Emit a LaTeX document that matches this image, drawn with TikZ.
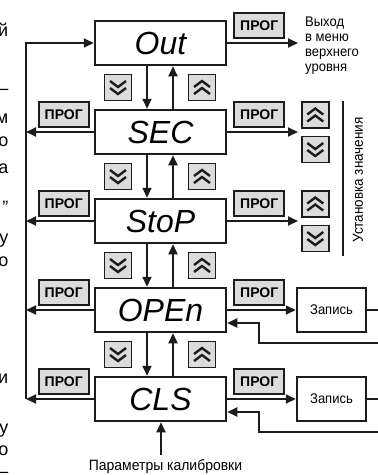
\documentclass[tikz,border=0pt]{standalone}
\usepackage{fontspec}
\setmainfont{Liberation Sans}
\newfontfamily\narrowfont[FakeStretch=0.93]{Liberation Sans}
\usetikzlibrary{arrows.meta,positioning}
\definecolor{ink}{RGB}{28,28,28}
\definecolor{keygray}{RGB}{220,220,220}

\begin{document}
\begin{tikzpicture}[x=1pt, y=-1pt,
  menu/.style={draw=ink, line width=2.5pt, minimum width=131pt, minimum height=44pt, inner sep=0pt, font=\fontsize{32}{32}\selectfont\itshape},
  prog/.style={draw=ink, fill=keygray, line width=1.8pt, minimum width=50pt, minimum height=25pt, inner sep=0pt, font=\fontsize{14}{14}\selectfont\bfseries},
  key/.style={draw=ink, fill=keygray, line width=1.8pt, minimum width=27pt, minimum height=26pt, inner sep=0pt},
  dnkey/.style={key, path picture={\foreach \o in {6.5,-0.5}
      \draw[ink, line width=2.4pt] ([shift={(-8pt,\o pt)}]path picture bounding box.center) -- ++(8pt,-6pt) -- ++(8pt,6pt);}},
  upkey/.style={key, path picture={\foreach \o in {-6.5,0.5}
      \draw[ink, line width=2.4pt] ([shift={(-8pt,\o pt)}]path picture bounding box.center) -- ++(8pt,6pt) -- ++(8pt,-6pt);}},
  rec/.style={draw=ink, line width=2.5pt, minimum width=69pt, minimum height=44pt, inner sep=0pt, font=\narrowfont\fontsize{14}{14}\selectfont},
  note/.style={font=\narrowfont\fontsize{14}{15}\selectfont, inner sep=0pt},
  frag/.style={font=\fontsize{18}{18}\selectfont, inner sep=0pt, anchor=base east},
  arr/.style={draw=ink, line width=2pt, -{Triangle[length=10pt,width=9pt]}},
  ln/.style={draw=ink, line width=2pt}
]
\useasboundingbox (0,0) rectangle (378,475);

% text cut off at the left margin
\foreach \t/\y [count=\i] in {й/36, –/94, м/123, о/146, а/173, "/213, у/243, о/266, и/383, у/433, о/455, –/477}
  \node[frag] (frag-\i) at (8.5,\y) {\t};

% menu items
\node[menu] (out)  at (160.5,43)  {Out};
\node[menu] (sec)  at (160.5,132) {SEC};
\node[menu] (stop) at (160.5,221) {StoP};
\node[menu] (open) at (160.5,310) {OPEn};
\node[menu] (cls)  at (160.5,399) {CLS};

\foreach \a/\b/\y in {out/sec/87.5, sec/stop/176.5, stop/open/265.5, open/cls/354.5} {
  \draw[arr] ([xshift=-13.5pt]\a.south) -- ([xshift=-13.5pt]\b.north);
  \draw[arr] ([xshift=12.5pt]\b.north) -- ([xshift=12.5pt]\a.south);
  \node[dnkey] (dn-\b) at (118,\y) {};
  \node[upkey] (up-\b) at (202,\y) {};
}

% return rail on the left
\coordinate (railtop) at (26,43);
\coordinate (railbot) at (26,399);
\draw[arr] (railbot) -- (railtop) -- (out.west);
\foreach \m in {sec,stop,open,cls} {
  \node[prog] (lprog-\m) at ([shift={(-30pt,17.5pt)}]\m.west) {ПРОГ};
  \draw[arr] (\m.west) -- (\m.west -| railtop);
}

% exits on the right
\coordinate (tip) at (298,0);
\coordinate (edge) at (378,0);
\foreach \m in {out,sec,stop,open,cls}
  \node[prog] (rprog-\m) at ([shift={(32pt,17.5pt)}]\m.east) {ПРОГ};

\draw[arr] (out.east) -- (out.east -| tip);
\node[note, align=left, anchor=north west] (exit) at (305,17) {Выход\\в меню\\верхнего\\уровня};

\foreach \m in {sec,stop} {
  \draw[arr] (\m.east) -- (\m.east -| tip);
  \node[upkey] (vup-\m) at ([shift={(88pt,17pt)}]\m.east) {};
  \node[dnkey] (vdn-\m) at ([shift={(88pt,-17.5pt)}]\m.east) {};
}
\draw[line width=1.5pt, ink] (343,101) -- (343,256);
\node[note, rotate=90, font=\narrowfont\fontsize{14.5}{15}\selectfont] (setval) at (358,180) {Установка значения};

% recording of the value
\node[rec] (rec-open) at (331.5,310) {Запись};
\node[rec] (rec-cls)  at (331.5,399) {Запись};
\coordinate (back-open) at (378,343);
\coordinate (back-cls)  at (378,432);
\foreach \m in {open,cls} {
  \draw[arr] (\m.east) -- (rec-\m.west);
  \draw[ln] (rec-\m.east) -- (rec-\m.east -| edge);
  \draw[arr] (back-\m) -| ([shift={(32pt,-13pt)}]\m.east) -- ([yshift=-13pt]\m.east);
}

% calibration input
\node[note, font=\narrowfont\fontsize{15}{15}\selectfont] (calib) at (165.5,467) {Параметры калибровки};
\coordinate (calibtop) at (161,455);
\draw[arr] (calibtop) -- (calibtop |- cls.south);
\end{tikzpicture}
\end{document}
